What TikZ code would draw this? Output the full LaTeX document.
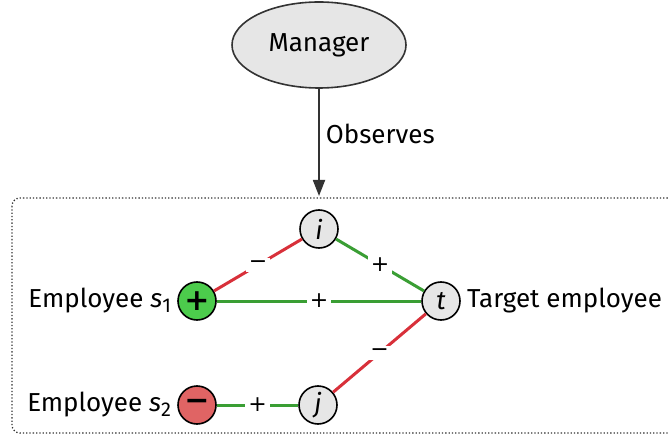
\documentclass[tikz,border=0pt]{standalone}
\usepackage{fontspec}
\setmainfont{Fira Sans}
\newfontfamily\signfont{DejaVu Sans}
\usetikzlibrary{shapes.geometric,arrows.meta}
\definecolor{nodegray}{HTML}{E6E6E6}
\definecolor{posfill}{HTML}{4CCC4C}
\definecolor{negfill}{HTML}{E06464}
\definecolor{posedge}{HTML}{3A9E34}
\definecolor{negedge}{HTML}{D8303A}
\definecolor{ink}{HTML}{333333}
\newcommand{\sub}[1]{\raisebox{-0.35ex}{\fontsize{20}{20}\selectfont #1}}
\tikzset{
  agent/.style={circle, draw=black, line width=1.6pt, fill=nodegray,
    minimum size=38pt, inner sep=0pt, font=\fontsize{26}{26}\selectfont\itshape},
  signnode/.style={circle, draw=black, line width=1.6pt,
    minimum size=38pt, inner sep=0pt, font=\fontsize{30}{30}\signfont\bfseries},
  postie/.style={draw=posedge, line width=3pt},
  negtie/.style={draw=negedge, line width=3pt},
  sign/.style={fill=white, inner sep=3pt, text=black, font=\fontsize{22}{22}\signfont},
  tag/.style={font=\fontsize{26}{26}\selectfont, inner sep=0pt, text=black}
}
\begin{document}
\begin{tikzpicture}[x=1pt, y=-1pt]
\useasboundingbox (0,0) rectangle (668,435);
% group frame
\draw[ink, dotted, line width=1.3pt, rounded corners=8pt] (12,198) rectangle (690,433);
% manager
\node[ellipse, draw=ink, line width=1.6pt, fill=nodegray, minimum width=174pt,
  minimum height=86pt, inner sep=0pt, font=\fontsize{26}{26}\selectfont] (mgr) at (319,45) {Manager};
\coordinate (obs) at (319,196);
\draw[ink, line width=1.8pt, -{Triangle[length=16pt, width=12pt]}] (mgr) -- (obs)
  node[pos=0.42, right=6pt, tag] {Observes};
% employees
\node[agent] (i) at (319,229) {i};
\node[agent] (t) at (441,301) {t};
\node[agent] (j) at (318,405) {j};
\node[signnode, fill=posfill] (s1) at (197,301) {+};
\node[signnode, fill=negfill] (s2) at (197,405) {−};
% labels
\node[tag, anchor=east] (l1) at ([xshift=-6pt]s1.west) {Employee \textit{s}\sub{1}};
\node[tag, anchor=east] (l2) at ([xshift=-6pt]s2.west) {Employee \textit{s}\sub{2}};
\node[tag, anchor=west] (lt) at ([xshift=6pt]t.east) {Target employee};
% signed ties
\draw[negtie] (s1) -- node[sign] {−} (i);
\draw[postie] (i) -- node[sign] {+} (t);
\draw[postie] (s1) -- node[sign] {+} (t);
\draw[negtie] (t) -- node[sign] {−} (j);
\draw[postie] (s2) -- node[sign] {+} (j);
\end{tikzpicture}
\end{document}
